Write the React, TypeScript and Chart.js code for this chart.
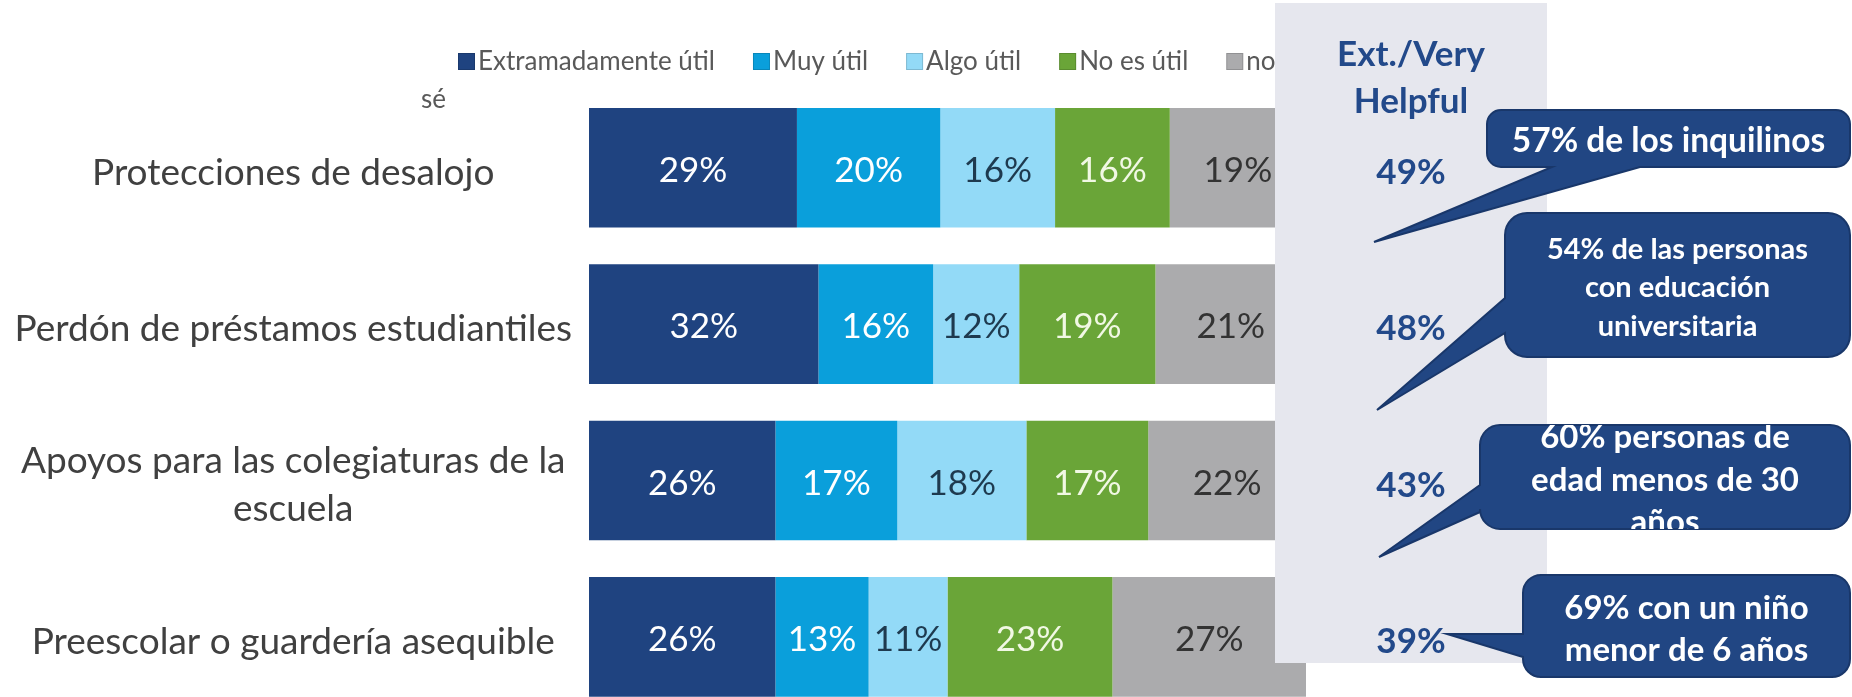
import React, { useEffect, useRef } from "react";
import { Chart, registerables } from "chart.js";

Chart.register(...registerables);

// ---------- data ----------
const categories: (string | string[])[] = [
  "Protecciones de desalojo",
  "Perdón de préstamos estudiantiles",
  ["Apoyos para las colegiaturas de la", "escuela"],
  "Preescolar o guardería asequible",
];
const seriesNames = ["Extramadamente útil", "Muy útil", "Algo útil", "No es útil", "no sé"];
const extremadamenteUtil = [29, 32, 26, 26];
const muyUtil = [20, 16, 17, 13];
const algoUtil = [16, 12, 18, 11];
const noEsUtil = [16, 19, 17, 23];
const noSe = [19, 21, 22, 27];
const extVeryHelpful = [49, 48, 43, 39];
const panelTitle = ["Ext./Very", "Helpful"];
const calloutTexts = [
  ["57% de los inquilinos"],
  ["54% de las personas", "con educación", "universitaria"],
  ["60% personas de", "edad menos de 30", "años"],
  ["69% con un niño", "menor de 6 años"],
];

// ---------- styles / layout ----------
const seriesColors = ["#1F4380", "#0A9FDB", "#93DAF7", "#6AA538", "#ABABAD"];
const labelColors = ["#FFFFFF", "#FFFFFF", "#1E3A4F", "#F1F8E4", "#333333"];
const W = 1852;
const H = 760;
const AREA = { top: 89.65, bottom: 715, left: 589, right: 1306 };
const PANEL = { x: 1275, y: 3, w: 272, h: 660, color: "#E6E7EE" };
const BLUE_TEXT = "#22498A";
const CALLOUT_FILL = "#214683";
const CALLOUT_STROKE = "#19376A";
type Tail = { side: "bottom" | "left"; a: number; b: number; tx: number; ty: number };
type Box = { x: number; y: number; w: number; h: number; r: number; font: number; lh: number; tail: Tail };
const calloutBoxes: Box[] = [
  { x: 1487, y: 110, w: 363, h: 57, r: 14, font: 33.5, lh: 40, tail: { side: "bottom", a: 1552, b: 1640, tx: 1374, ty: 242 } },
  { x: 1505, y: 213, w: 345, h: 144, r: 22, font: 29, lh: 38.5, tail: { side: "left", a: 298, b: 333, tx: 1377, ty: 410 } },
  { x: 1480, y: 425, w: 370, h: 104, r: 20, font: 33, lh: 42.5, tail: { side: "left", a: 485, b: 512, tx: 1379, ty: 557 } },
  { x: 1523, y: 575, w: 327, h: 102, r: 18, font: 33, lh: 42, tail: { side: "left", a: 634, b: 657, tx: 1447, ty: 634 } },
];

function calloutPath(ctx: CanvasRenderingContext2D, b: Box, withTail: boolean) {
  const { x, y, w, h, r, tail } = b;
  const R = x + w;
  const B = y + h;
  ctx.beginPath();
  ctx.moveTo(x + r, y);
  ctx.lineTo(R - r, y);
  ctx.arcTo(R, y, R, y + r, r);
  ctx.lineTo(R, B - r);
  ctx.arcTo(R, B, R - r, B, r);
  if (withTail && tail.side === "bottom") {
    ctx.lineTo(tail.b, B);
    ctx.lineTo(tail.tx, tail.ty);
    ctx.lineTo(tail.a, B);
  }
  ctx.lineTo(x + r, B);
  ctx.arcTo(x, B, x, B - r, r);
  if (withTail && tail.side === "left") {
    ctx.lineTo(x, tail.b);
    ctx.lineTo(tail.tx, tail.ty);
    ctx.lineTo(x, tail.a);
  }
  ctx.lineTo(x, y + r);
  ctx.arcTo(x, y, x + r, y, r);
  ctx.closePath();
}

const overlayPlugin = {
  id: "overlay",
  afterDatasetsDraw(chart: any) {
    const ctx: CanvasRenderingContext2D = chart.ctx;
    const yScale = chart.scales.y;
    ctx.save();

    // data labels inside segments
    ctx.font = "35px Lato";
    ctx.textAlign = "center";
    ctx.textBaseline = "middle";
    chart.data.datasets.forEach((ds: any, di: number) => {
      const meta = chart.getDatasetMeta(di);
      meta.data.forEach((el: any, i: number) => {
        const p = el.getProps(["x", "y", "base"], true);
        ctx.fillStyle = labelColors[di];
        ctx.fillText(`${ds.data[i]}%`, (p.x + p.base) / 2, p.y + 3);
      });
    });

    // legend
    ctx.font = "26px Lato";
    ctx.textAlign = "left";
    ctx.textBaseline = "middle";
    let lx = 458;
    const ly = 62;
    chart.data.datasets.forEach((ds: any, di: number) => {
      ctx.fillStyle = ds.backgroundColor;
      ctx.fillRect(lx, ly - 9, 17, 17);
      ctx.strokeStyle = "rgba(0,0,0,0.15)";
      ctx.lineWidth = 1;
      ctx.strokeRect(lx + 0.5, ly - 8.5, 16, 16);
      ctx.fillStyle = "#595959";
      const words = String(ds.label).split(" ");
      const isLast = di === chart.data.datasets.length - 1;
      const first = isLast ? words[0] : ds.label;
      ctx.fillText(first, lx + 20, ly);
      if (isLast && words.length > 1) ctx.fillText(words.slice(1).join(" "), 421, 100);
      lx += 20 + ctx.measureText(first).width + 38;
    });

    // grey panel
    ctx.fillStyle = PANEL.color;
    ctx.fillRect(PANEL.x, PANEL.y, PANEL.w, PANEL.h);
    const pcx = PANEL.x + PANEL.w / 2;
    ctx.fillStyle = BLUE_TEXT;
    ctx.textAlign = "center";
    ctx.font = "bold 35px Lato";
    ctx.fillText(panelTitle[0], pcx, 55);
    ctx.fillText(panelTitle[1], pcx, 102);
    extVeryHelpful.forEach((v, i) => {
      ctx.fillText(`${v}%`, pcx, yScale.getPixelForValue(i) + 5);
    });

    // callouts
    calloutBoxes.forEach((b, ci) => {
      calloutPath(ctx, b, true);
      ctx.fillStyle = CALLOUT_FILL;
      ctx.fill();
      ctx.strokeStyle = CALLOUT_STROKE;
      ctx.lineWidth = 2;
      ctx.stroke();
      ctx.save();
      calloutPath(ctx, b, false);
      ctx.clip();
      const lines = calloutTexts[ci];
      ctx.font = `bold ${b.font}px Lato`;
      ctx.fillStyle = "#FFFFFF";
      ctx.textAlign = "center";
      ctx.textBaseline = "middle";
      const cx = b.x + b.w / 2;
      const cy = b.y + b.h / 2 + 3;
      lines.forEach((t, li) => {
        ctx.fillText(t, cx, cy + (li - (lines.length - 1) / 2) * b.lh);
      });
      ctx.restore();
    });

    ctx.restore();
  },
};

export default function App() {
  const ref = useRef<HTMLCanvasElement | null>(null);
  useEffect(() => {
    if (!ref.current) return;
    const seriesValues = [extremadamenteUtil, muyUtil, algoUtil, noEsUtil, noSe];
    const chart = new Chart(ref.current, {
      type: "bar",
      data: {
        labels: categories as any,
        datasets: seriesValues.map((vals, i) => ({
          label: seriesNames[i],
          data: vals,
          backgroundColor: seriesColors[i],
          borderWidth: 0,
          categoryPercentage: 1,
          barPercentage: 0.765,
        })),
      },
      options: {
        indexAxis: "y",
        responsive: false,
        maintainAspectRatio: false,
        animation: false,
        events: [],
        layout: { padding: { top: AREA.top, bottom: H - AREA.bottom, left: 0, right: W - AREA.right } },
        plugins: { legend: { display: false }, tooltip: { enabled: false }, title: { display: false } },
        scales: {
          x: { stacked: true, min: 0, max: 100, display: false },
          y: {
            stacked: true,
            grid: { display: false, drawTicks: false },
            border: { display: false },
            afterFit: (scale: any) => {
              scale.width = AREA.left;
            },
            ticks: {
              autoSkip: false,
              crossAlign: "center",
              padding: 17,
              labelOffset: 5,
              color: "#404040",
              font: { family: "Lato", size: 37, lineHeight: 1.3 },
            },
          },
        },
      },
      plugins: [overlayPlugin],
    } as any);
    let alive = true;
    (document as any).fonts?.ready?.then(() => {
      if (alive) chart.update();
    });
    return () => {
      alive = false;
      chart.destroy();
    };
  }, []);
  return (
    <div style={{ position: "fixed", left: 0, top: 0, width: W, height: 697, overflow: "hidden", background: "#fff" }}>
      <canvas ref={ref} width={W} height={H} style={{ display: "block", width: W, height: H }} />
    </div>
  );
}
